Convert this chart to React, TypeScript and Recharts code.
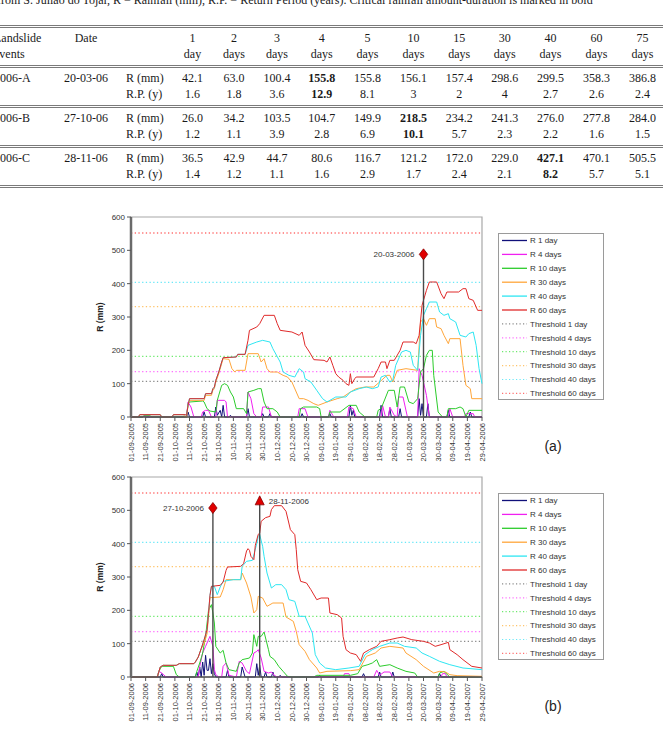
import React from "react";
import {
  LineChart,
  Line,
  XAxis,
  YAxis,
  ReferenceLine,
  ReferenceDot,
  ReferenceArea,
} from "recharts";

type Pt = [number, number];

const SANS = "'Liberation Sans', Arial, Helvetica, sans-serif";
const SERIF = "'Liberation Serif', 'Times New Roman', serif";

// ---- table: rainfall amount / return period per duration ----
const CAPTION =
  "from S. Julião do Tojal, R = Rainfall (mm), R.P. = Return Period (years). Critical rainfall amount-duration is marked in bold";
const DURATIONS = ["1", "2", "3", "4", "5", "10", "15", "30", "40", "60", "75"];
const EVENT_NAMES = ["2006-A", "2006-B", "2006-C"];
const EVENT_DATES = ["20-03-06", "27-10-06", "28-11-06"];
const RAIN_2006A = [42.1, 63.0, 100.4, 155.8, 155.8, 156.1, 157.4, 298.6, 299.5, 358.3, 386.8];
const RP_2006A = [1.6, 1.8, 3.6, 12.9, 8.1, 3, 2, 4, 2.7, 2.6, 2.4];
const RAIN_2006B = [26.0, 34.2, 103.5, 104.7, 149.9, 218.5, 234.2, 241.3, 276.0, 277.8, 284.0];
const RP_2006B = [1.2, 1.1, 3.9, 2.8, 6.9, 10.1, 5.7, 2.3, 2.2, 1.6, 1.5];
const RAIN_2006C = [36.5, 42.9, 44.7, 80.6, 116.7, 121.2, 172.0, 229.0, 427.1, 470.1, 505.5];
const RP_2006C = [1.4, 1.2, 1.1, 1.6, 2.9, 1.7, 2.4, 2.1, 8.2, 5.7, 5.1];
const CRITICAL_COL = [3, 5, 8];

// ---- charts ----
const TICKS_A = [
  "01-09-2005", "11-09-2005", "21-09-2005", "01-10-2005", "11-10-2005", "21-10-2005",
  "31-10-2005", "10-11-2005", "20-11-2005", "30-11-2005", "10-12-2005", "20-12-2005",
  "30-12-2005", "09-01-2006", "19-01-2006", "29-01-2006", "08-02-2006", "18-02-2006",
  "28-02-2006", "10-03-2006", "20-03-2006", "30-03-2006", "09-04-2006", "19-04-2006",
  "29-04-2006",
];
const TICKS_B = [
  "01-09-2006", "11-09-2006", "21-09-2006", "01-10-2006", "11-10-2006", "21-10-2006",
  "31-10-2006", "10-11-2006", "20-11-2006", "30-11-2006", "10-12-2006", "20-12-2006",
  "30-12-2006", "09-01-2007", "19-01-2007", "29-01-2007", "08-02-2007", "18-02-2007",
  "28-02-2007", "10-03-2007", "20-03-2007", "30-03-2007", "09-04-2007", "19-04-2007",
  "29-04-2007",
];
const Y_TICKS = [0, 100, 200, 300, 400, 500, 600];

const SERIES_NAMES = ["R 1 day", "R 4 days", "R 10 days", "R 30 days", "R 40 days", "R 60 days"];
const THRESHOLD_NAMES = [
  "Threshold 1 day", "Threshold 4 days", "Threshold 10 days",
  "Threshold 30 days", "Threshold 40 days", "Threshold 60 days",
];
const THRESHOLD_MM = [107, 136, 182, 331, 404, 552];

const SERIES_COLORS = ["#10107a", "#f020f0", "#2ccc2c", "#ffa63a", "#2ee6f2", "#e02a2a"];
const THRESHOLD_COLORS = ["#8a8a8a", "#ff70ff", "#6eea6e", "#ffc46a", "#6ae8f8", "#ff7070"];

// [day since first tick, mm]
const R1_A: Pt[] = [
  [0, 0], [8, 0], [9, 3], [10, 0], [38, 0], [39, 15], [40, 0], [49, 0], [50, 15], [51, 0],
  [57, 0], [58, 30], [59, 5], [61, 20], [62, 0], [63, 35], [64, 0], [67, 0], [68, 5], [69, 0],
  [79, 0], [80, 25], [81, 0], [89, 0], [90, 10], [91, 0], [94, 0], [95, 10], [96, 0],
  [116, 0], [117, 10], [118, 0], [135, 0], [136, 10], [137, 0], [149, 0], [150, 35], [151, 5],
  [152, 20], [153, 0], [170, 0], [171, 35], [172, 0], [176, 0], [177, 25], [178, 0], [183, 0],
  [184, 25], [185, 0], [196, 0], [197, 55], [198, 5], [199, 40], [200, 0], [202, 0], [203, 40],
  [204, 0], [216, 0], [217, 20], [218, 0], [231, 0], [232, 15], [233, 0], [240, 0],
];
const R4_A: Pt[] = [
  [0, 0], [8, 0], [9, 5], [12, 5], [13, 0], [38, 0], [39, 45], [41, 30], [43, 0], [48, 0],
  [49, 15], [51, 20], [53, 20], [55, 0], [58, 0], [59, 50], [64, 50], [65, 45], [66, 0],
  [79, 0], [80, 75], [82, 55], [84, 10], [86, 0], [89, 0], [90, 30], [94, 30], [96, 0],
  [114, 0], [115, 25], [119, 25], [121, 0], [135, 0], [136, 20], [138, 5], [139, 0],
  [148, 0], [149, 30], [152, 25], [154, 0], [171, 0], [172, 35], [174, 0], [176, 0],
  [177, 30], [180, 5], [182, 0], [183, 60], [186, 60], [189, 0], [196, 0], [197, 145],
  [199, 125], [202, 65], [204, 0], [217, 0], [218, 25], [220, 0], [228, 0], [229, 10],
  [234, 10], [235, 0], [240, 0],
];
const R10_A: Pt[] = [
  [0, 0], [8, 0], [9, 5], [13, 5], [14, 0], [38, 0], [39, 40], [40, 45], [49, 48], [50, 45],
  [52, 25], [54, 18], [58, 15], [59, 50], [62, 95], [64, 100], [66, 95], [68, 75], [70, 60],
  [72, 25], [77, 25], [79, 10], [80, 75], [84, 80], [87, 85], [89, 85], [91, 45], [93, 25],
  [97, 25], [100, 15], [102, 0], [115, 0], [116, 25], [118, 30], [127, 30], [129, 25],
  [130, 0], [135, 0], [136, 15], [143, 15], [149, 35], [154, 35], [156, 15], [160, 0],
  [168, 0], [169, 20], [171, 25], [176, 80], [180, 80], [182, 30], [184, 90], [187, 90],
  [190, 45], [193, 40], [196, 55], [198, 135], [200, 145], [202, 185], [204, 200],
  [206, 200], [207, 125], [210, 15], [213, 0], [216, 0], [217, 25], [222, 25], [225, 30],
  [227, 25], [229, 0], [231, 20], [240, 20],
];
const R30_A: Pt[] = [
  [0, 0], [5, 0], [6, 7], [20, 7], [21, 0], [28, 0], [29, 7], [36, 7], [37, 0], [38, 0],
  [39, 35], [40, 50], [50, 50], [51, 65], [55, 65], [56, 80], [57, 85], [58, 105], [60, 130],
  [62, 160], [63, 175], [67, 173], [69, 145], [71, 135], [72, 140], [78, 140], [80, 190],
  [87, 190], [89, 165], [91, 175], [93, 145], [95, 135], [100, 135], [104, 125], [107, 120],
  [110, 105], [113, 75], [115, 55], [118, 55], [121, 50], [125, 40], [128, 35], [134, 45],
  [141, 55], [145, 60], [150, 75], [154, 85], [160, 90], [166, 90], [170, 105], [175, 125],
  [177, 125], [179, 105], [182, 140], [188, 145], [196, 140], [198, 285], [200, 295],
  [202, 275], [204, 295], [208, 295], [209, 270], [212, 265], [214, 245], [217, 220],
  [218, 235], [225, 235], [227, 155], [229, 95], [232, 85], [233, 55], [240, 55],
];
const R40_A: Pt[] = [
  [0, 0], [5, 0], [6, 7], [20, 7], [21, 0], [28, 0], [29, 7], [37, 7], [38, 5], [39, 35],
  [40, 55], [50, 55], [51, 70], [55, 70], [56, 85], [57, 88], [58, 110], [60, 135], [62, 165],
  [63, 178], [72, 180], [73, 188], [78, 188], [80, 215], [86, 225], [90, 230], [95, 225],
  [97, 205], [102, 165], [104, 135], [108, 125], [112, 120], [115, 145], [118, 135],
  [119, 115], [123, 105], [127, 80], [131, 55], [134, 45], [140, 60], [147, 60], [150, 75],
  [156, 85], [161, 90], [165, 85], [169, 90], [171, 120], [174, 125], [177, 105], [179, 110],
  [181, 155], [185, 195], [188, 200], [191, 195], [193, 155], [196, 140], [198, 245],
  [200, 305], [202, 325], [204, 345], [209, 345], [211, 315], [214, 305], [217, 310],
  [218, 295], [222, 285], [225, 245], [229, 240], [231, 250], [234, 255], [236, 215],
  [238, 145], [240, 100],
];
const R60_A: Pt[] = [
  [0, 0], [5, 0], [6, 7], [20, 7], [21, 0], [28, 0], [29, 7], [37, 7], [38, 5], [39, 35],
  [40, 55], [50, 55], [51, 70], [55, 70], [56, 85], [57, 90], [58, 110], [60, 135], [62, 165],
  [63, 178], [72, 180], [73, 188], [78, 188], [80, 230], [81, 260], [86, 270], [88, 280],
  [91, 305], [98, 305], [100, 280], [102, 260], [110, 255], [115, 245], [117, 255],
  [119, 215], [122, 195], [125, 172], [132, 170], [134, 165], [136, 180], [138, 155],
  [140, 130], [142, 120], [145, 110], [147, 100], [149, 95], [150, 130], [151, 100],
  [153, 115], [154, 120], [166, 120], [169, 145], [171, 165], [174, 165], [175, 145],
  [177, 170], [180, 170], [184, 200], [186, 225], [193, 225], [195, 220], [197, 245],
  [199, 335], [202, 380], [204, 405], [209, 405], [212, 370], [214, 355], [216, 375],
  [224, 375], [227, 385], [229, 385], [231, 355], [234, 350], [237, 320], [240, 320],
];

const R1_B: Pt[] = [
  [0, 0], [20, 0], [21, 10], [22, 0], [44, 0], [45, 15], [46, 0], [47, 30], [48, 0], [49, 45],
  [50, 5], [51, 65], [52, 20], [53, 20], [54, 55], [55, 10], [56, 40], [57, 10], [58, 0],
  [65, 0], [66, 20], [67, 0], [75, 0], [76, 30], [77, 15], [78, 0], [85, 0], [86, 40], [87, 5],
  [88, 35], [89, 0], [91, 0], [92, 15], [93, 0], [96, 0], [97, 15], [98, 0], [101, 0],
  [102, 5], [103, 0], [128, 0], [129, 5], [130, 0], [158, 0], [159, 10], [160, 0], [169, 0],
  [170, 15], [171, 0], [178, 0], [179, 15], [180, 0], [210, 0], [211, 10], [212, 0], [240, 0],
];
const R4_B: Pt[] = [
  [0, 0], [18, 0], [19, 17], [21, 12], [24, 0], [46, 0], [47, 32], [49, 72], [51, 92],
  [54, 122], [56, 92], [57, 22], [58, 7], [60, 0], [62, 0], [63, 32], [65, 42], [67, 5],
  [72, 0], [74, 47], [76, 42], [79, 17], [81, 10], [84, 72], [86, 77], [87, 82], [89, 57],
  [91, 17], [94, 12], [96, 15], [98, 5], [100, 0], [145, 0], [146, 10], [149, 10], [150, 0],
  [166, 0], [168, 20], [170, 5], [173, 15], [177, 15], [179, 0], [212, 0], [213, 10],
  [215, 10], [216, 0], [240, 0],
];
const R10_B: Pt[] = [
  [0, 0], [18, 0], [19, 17], [21, 32], [29, 32], [31, 7], [33, 0], [44, 0], [45, 17],
  [47, 42], [49, 72], [51, 122], [53, 200], [55, 217], [56, 192], [57, 162], [58, 92],
  [61, 72], [63, 80], [65, 42], [67, 22], [72, 17], [74, 42], [76, 52], [81, 57], [83, 72],
  [84, 127], [86, 92], [87, 122], [89, 122], [91, 135], [94, 82], [95, 62], [98, 52],
  [101, 32], [104, 17], [107, 2], [110, 0], [125, 0], [127, 5], [150, 5], [155, 10],
  [158, 32], [162, 37], [165, 42], [168, 52], [170, 32], [177, 37], [182, 27], [188, 17],
  [194, 12], [196, 0], [210, 0], [211, 12], [214, 17], [218, 0], [240, 0],
];
const R30_B: Pt[] = [
  [0, 0], [18, 0], [19, 15], [20, 30], [22, 35], [31, 35], [33, 40], [43, 40], [44, 45],
  [46, 60], [48, 85], [50, 100], [52, 130], [53, 180], [54, 238], [61, 240], [63, 262],
  [65, 292], [75, 292], [76, 312], [79, 282], [82, 240], [84, 192], [86, 202], [87, 242],
  [90, 237], [93, 212], [97, 222], [104, 222], [106, 180], [111, 167], [113, 137], [115, 97],
  [119, 77], [122, 52], [127, 27], [129, 12], [134, 17], [150, 19], [156, 22], [161, 62],
  [167, 72], [171, 87], [177, 92], [186, 87], [188, 72], [195, 52], [200, 32], [207, 12],
  [211, 17], [215, 15], [218, 7], [223, 4], [240, 2],
];
const R40_B: Pt[] = [
  [0, 0], [18, 0], [19, 15], [20, 30], [22, 35], [31, 35], [33, 40], [43, 40], [44, 45],
  [46, 60], [48, 85], [50, 112], [52, 142], [53, 190], [54, 245], [55, 272], [57, 272],
  [59, 247], [61, 270], [63, 287], [70, 292], [75, 292], [76, 332], [79, 347], [83, 350],
  [86, 400], [87, 422], [88, 427], [90, 392], [91, 362], [93, 312], [96, 267], [99, 277],
  [103, 277], [106, 262], [108, 232], [112, 227], [115, 182], [119, 182], [121, 162],
  [124, 132], [126, 67], [129, 42], [133, 27], [140, 22], [149, 27], [156, 32], [160, 67],
  [165, 82], [170, 92], [177, 102], [182, 102], [187, 92], [195, 87], [199, 72], [204, 62],
  [211, 47], [218, 37], [227, 27], [240, 22],
];
const R60_B: Pt[] = [
  [0, 0], [18, 0], [19, 15], [20, 30], [22, 35], [31, 35], [33, 40], [43, 40], [44, 45],
  [46, 60], [48, 85], [50, 112], [52, 142], [53, 190], [54, 245], [55, 272], [61, 275],
  [63, 285], [65, 320], [66, 330], [75, 332], [77, 340], [79, 378], [80, 385], [81, 380],
  [82, 362], [84, 352], [85, 395], [87, 428], [88, 432], [89, 467], [92, 478], [95, 482],
  [96, 502], [98, 514], [103, 514], [106, 497], [109, 442], [112, 427], [113, 382],
  [114, 322], [116, 287], [120, 282], [123, 262], [127, 232], [130, 237], [135, 237],
  [136, 192], [141, 187], [144, 177], [145, 122], [147, 82], [150, 72], [154, 67], [157, 47],
  [159, 72], [163, 82], [168, 92], [171, 107], [177, 112], [182, 117], [186, 120],
  [192, 112], [200, 107], [204, 102], [208, 92], [212, 97], [217, 104], [218, 82], [223, 67],
  [227, 52], [233, 32], [240, 27],
];

const SERIES_A = [R1_A, R4_A, R10_A, R30_A, R40_A, R60_A];
const SERIES_B = [R1_B, R4_B, R10_B, R30_B, R40_B, R60_B];

// landslide events marked on each panel: day index and marker height (mm)
const EVENTS_A = [{ label: "20-03-2006", day: 200, mm: 488 }];
const EVENTS_B = [
  { label: "27-10-2006", day: 56, mm: 507 },
  { label: "28-11-2006", day: 88, mm: 527 },
];
const MARKERS_A = ["diamond"];
const MARKERS_B = ["diamond", "triangle"];

const toRows = (pts: Pt[]) => pts.map(([d, r]) => ({ d, r }));

function Diamond(props: any) {
  const { cx, cy } = props;
  return (
    <path
      d={`M${cx},${cy - 5.5}L${cx + 4.2},${cy}L${cx},${cy + 5.5}L${cx - 4.2},${cy}Z`}
      fill="#e00000"
      stroke="#8a0000"
      strokeWidth={0.8}
    />
  );
}

function Triangle(props: any) {
  const { cx, cy } = props;
  return (
    <path
      d={`M${cx},${cy - 5.5}L${cx + 4.5},${cy + 3.5}L${cx - 4.5},${cy + 3.5}Z`}
      fill="#e00000"
      stroke="#8a0000"
      strokeWidth={0.8}
    />
  );
}

const dateTick = (labels: string[]) => (props: any) => {
  const { x, y, payload } = props;
  const text = labels[Math.round(payload.value / 10)];
  return (
    <text
      x={x}
      y={y}
      transform={`rotate(-90 ${x} ${y})`}
      textAnchor="end"
      dy="0.35em"
      fontSize={7.5}
      fill="#333"
      fontFamily={SANS}
    >
      {text}
    </text>
  );
};

const axisTitle = (props: any) => {
  const vb = props.viewBox || { x: 0, y: 17, width: 131, height: 200 };
  const cx = vb.x + vb.width - 31;
  const cy = vb.y + vb.height / 2;
  return (
    <text
      x={cx}
      y={cy}
      transform={`rotate(-90 ${cx} ${cy})`}
      textAnchor="middle"
      dy="0.35em"
      fontSize={8.5}
      fontWeight="bold"
      fill="#222"
      fontFamily={SANS}
    >
      R (mm)
    </text>
  );
};

function RainPanel({
  top,
  series,
  ticks,
  events,
  markers,
  tag,
}: {
  top: number;
  series: Pt[][];
  ticks: string[];
  events: { label: string; day: number; mm: number }[];
  markers: string[];
  tag: string;
}) {
  return (
    <>
      <div style={{ position: "absolute", left: 0, top, width: 492, height: 272 }}>
        <LineChart width={492} height={272} margin={{ top: 17, right: 10, bottom: 2, left: 0 }}>
          <XAxis
            dataKey="d"
            type="number"
            domain={[0, 240]}
            ticks={ticks.map((_, i) => i * 10)}
            interval={0}
            height={53}
            tickSize={4}
            tick={dateTick(ticks)}
            axisLine={{ stroke: "#555", strokeWidth: 1.5 }}
            tickLine={{ stroke: "#555" }}
          />
          <YAxis
            type="number"
            domain={[0, 600]}
            ticks={Y_TICKS}
            interval={0}
            width={131}
            tickSize={4}
            tick={{ fontSize: 8, fill: "#333", fontFamily: SANS }}
            axisLine={{ stroke: "#6a6a6a", strokeWidth: 2.5 }}
            tickLine={{ stroke: "#555" }}
            label={axisTitle}
          />
          <ReferenceArea x1={0} x2={240} y1={0} y2={600} fill="none" stroke="#a8a8a8" strokeWidth={1.2} />
          {THRESHOLD_MM.map((mm, i) => (
            <ReferenceLine
              key={THRESHOLD_NAMES[i]}
              y={mm}
              stroke={THRESHOLD_COLORS[i]}
              strokeWidth={1.3}
              strokeDasharray="1.3 2.4"
            />
          ))}
          {series.map((pts, i) => (
            <Line
              key={SERIES_NAMES[i]}
              data={toRows(pts)}
              dataKey="r"
              name={SERIES_NAMES[i]}
              type="linear"
              stroke={SERIES_COLORS[i]}
              strokeWidth={1}
              dot={false}
              activeDot={false}
              isAnimationActive={false}
            />
          ))}
          {events.map((ev) => (
            <ReferenceLine
              key={`seg-${ev.label}`}
              segment={[
                { x: ev.day, y: 0 },
                { x: ev.day, y: ev.mm },
              ]}
              stroke="#4a4a4a"
              strokeWidth={1.4}
            />
          ))}
          {events.map((ev, i) => (
            <ReferenceDot
              key={`dot-${ev.label}`}
              x={ev.day}
              y={ev.mm}
              r={5}
              shape={markers[i] === "triangle" ? Triangle : Diamond}
              label={{
                value: ev.label,
                position: markers[i] === "triangle" ? "right" : "left",
                offset: 4,
                fontSize: 8,
                fill: "#333",
                fontFamily: SANS,
              }}
            />
          ))}
        </LineChart>
      </div>
      <LegendBox top={top + 33} />
      <div
        style={{
          position: "absolute",
          left: 533,
          top: top + 238,
          width: 40,
          textAlign: "center",
          fontFamily: SANS,
          fontSize: 14,
          color: "#222",
        }}
      >
        {tag}
      </div>
    </>
  );
}

function LegendBox({ top }: { top: number }) {
  const rows = [
    ...SERIES_NAMES.map((name, i) => ({ name, color: SERIES_COLORS[i], dotted: false })),
    ...THRESHOLD_NAMES.map((name, i) => ({ name, color: THRESHOLD_COLORS[i], dotted: true })),
  ];
  return (
    <div
      style={{
        position: "absolute",
        left: 498,
        top,
        width: 106,
        height: 167,
        border: "1px solid #9a9a9a",
        boxSizing: "border-box",
        background: "#fff",
      }}
    >
      <svg width={104} height={165} style={{ display: "block" }}>
        {rows.map((row, i) => {
          const y = 6.5 + i * 13.9;
          return (
            <g key={row.name}>
              <line
                x1={3}
                x2={28}
                y1={y}
                y2={y}
                stroke={row.color}
                strokeWidth={row.dotted ? 1.2 : 1.3}
                strokeDasharray={row.dotted ? "1.2 2.3" : undefined}
              />
              <text x={31} y={y} dy="0.35em" fontSize={8} fill="#333" fontFamily={SANS}>
                {row.name}
              </text>
            </g>
          );
        })}
      </svg>
    </div>
  );
}

const COL_WIDTHS = [64, 56, 58, 41, 42, 44, 45.5, 46, 46, 45.5, 45.5, 46, 46, 46];
const RULE = "3px double #7a7a7a";

function RainTable() {
  const rows = [
    [RAIN_2006A, RP_2006A],
    [RAIN_2006B, RP_2006B],
    [RAIN_2006C, RP_2006C],
  ];
  const cell: React.CSSProperties = {
    padding: "3px 0 3px",
    lineHeight: "15.5px",
    verticalAlign: "top",
    whiteSpace: "nowrap",
    overflow: "visible",
  };
  return (
    <div
      style={{
        position: "absolute",
        left: 0,
        top: 0,
        width: 663,
        height: 195,
        overflow: "hidden",
        fontFamily: SERIF,
        fontSize: 12,
        color: "#1a1a1a",
      }}
    >
      <div style={{ position: "absolute", left: -3, top: -7, lineHeight: "15px", whiteSpace: "nowrap" }}>
        {CAPTION}
      </div>
      <table
        style={{
          position: "absolute",
          left: -6,
          top: 25,
          borderCollapse: "collapse",
          tableLayout: "fixed",
          width: COL_WIDTHS.reduce((a, b) => a + b, 0),
        }}
      >
        <colgroup>
          {COL_WIDTHS.map((w, i) => (
            <col key={i} style={{ width: w }} />
          ))}
        </colgroup>
        <tbody>
          <tr style={{ borderTop: RULE }}>
            <td style={{ ...cell, textAlign: "left" }}>
              Landslide
              <br />
              events
            </td>
            <td style={{ ...cell, textAlign: "center" }}>Date</td>
            <td style={cell} />
            {DURATIONS.map((d) => (
              <td key={d} style={{ ...cell, textAlign: "center" }}>
                {d}
                <br />
                {d === "1" ? "day" : "days"}
              </td>
            ))}
          </tr>
          {rows.map(([rain, rp], r) => (
            <tr key={EVENT_NAMES[r]} style={{ borderTop: RULE }}>
              <td style={{ ...cell, textAlign: "left" }}>{EVENT_NAMES[r]}</td>
              <td style={{ ...cell, textAlign: "center" }}>{EVENT_DATES[r]}</td>
              <td style={{ ...cell, textAlign: "left", paddingLeft: 12 }}>
                R (mm)
                <br />
                R.P. (y)
              </td>
              {rain.map((v, c) => (
                <td
                  key={c}
                  style={{
                    ...cell,
                    textAlign: "center",
                    fontWeight: CRITICAL_COL[r] === c ? "bold" : "normal",
                  }}
                >
                  {v.toFixed(1)}
                  <br />
                  {String(rp[c])}
                </td>
              ))}
            </tr>
          ))}
          <tr style={{ borderTop: RULE }}>
            <td colSpan={COL_WIDTHS.length} style={{ padding: 0, height: 0 }} />
          </tr>
        </tbody>
      </table>
    </div>
  );
}

export default function App() {
  return (
    <div
      style={{
        position: "absolute",
        left: 0,
        top: 0,
        width: 663,
        height: 736,
        background: "#fff",
        overflow: "hidden",
      }}
    >
      <RainTable />
      <RainPanel top={200} series={SERIES_A} ticks={TICKS_A} events={EVENTS_A} markers={MARKERS_A} tag="(a)" />
      <RainPanel top={460} series={SERIES_B} ticks={TICKS_B} events={EVENTS_B} markers={MARKERS_B} tag="(b)" />
    </div>
  );
}
